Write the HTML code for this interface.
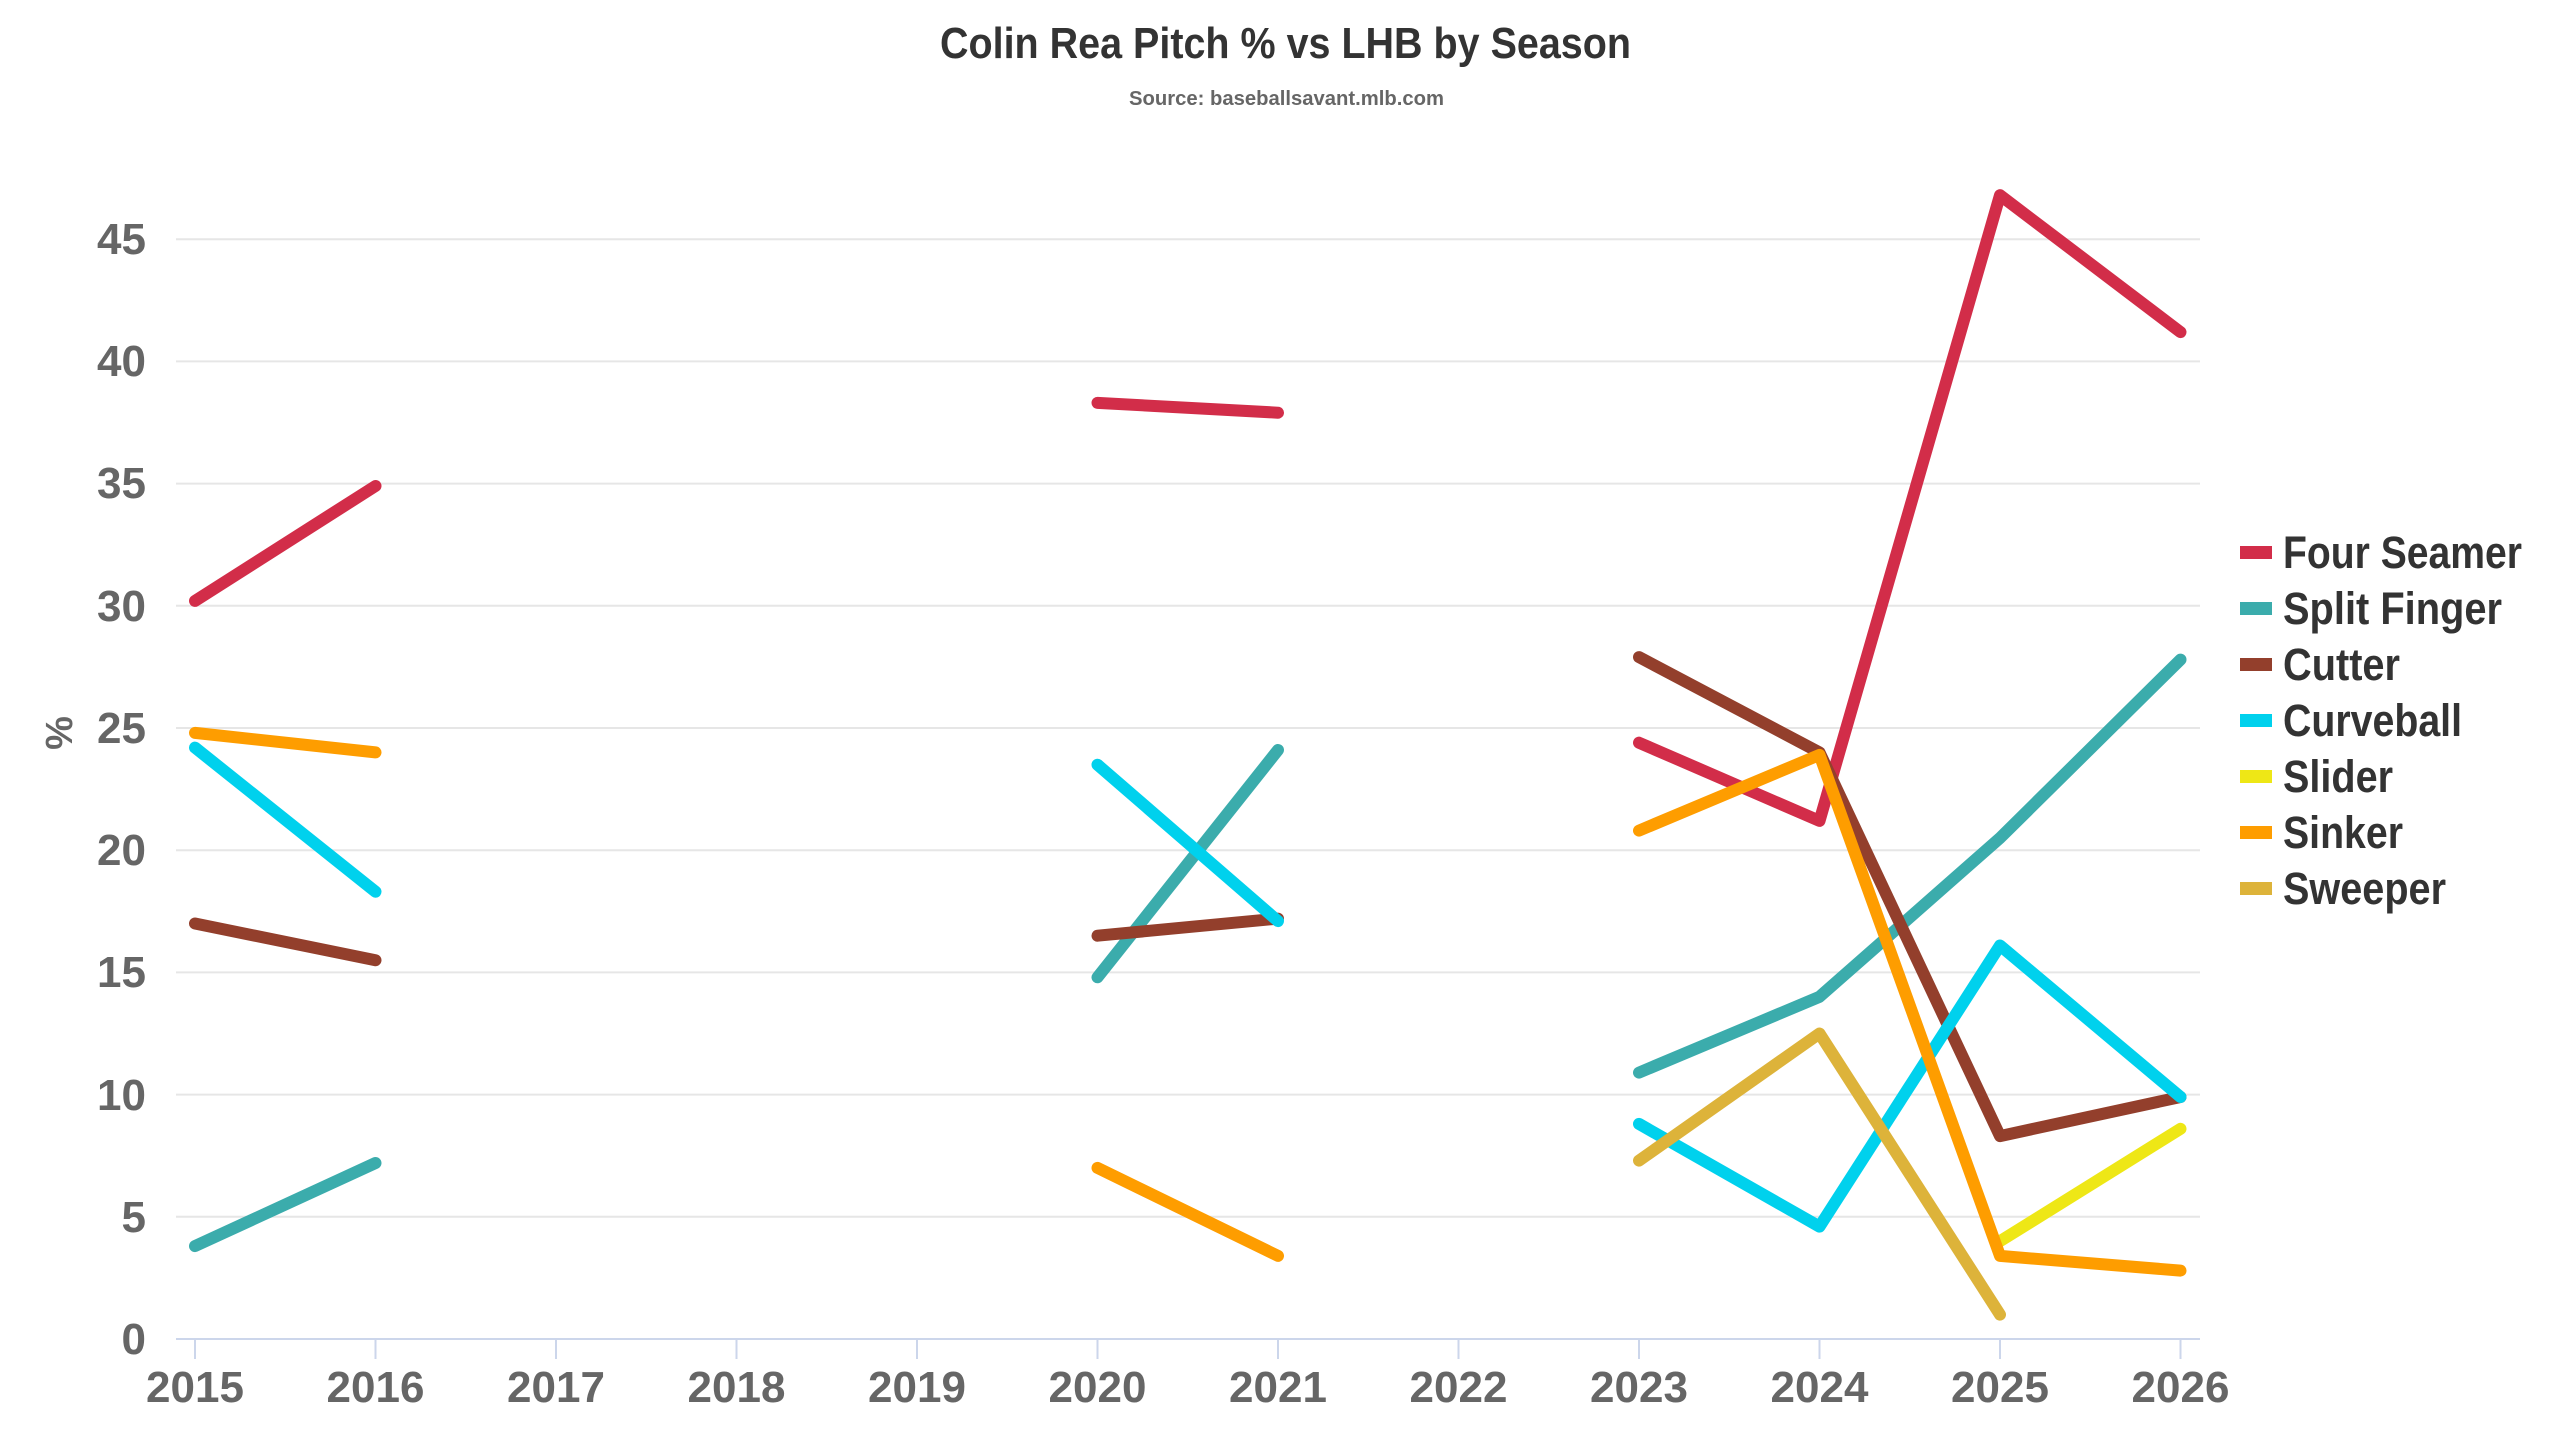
<!DOCTYPE html>
<html><head><meta charset="utf-8"><style>
html,body{margin:0;padding:0;background:#fff;}
svg{display:block;}
text{font-family:"Liberation Sans Narrow","Liberation Sans",sans-serif;font-weight:bold;}
</style></head><body>
<svg width="2560" height="1440" viewBox="0 0 2560 1440" xmlns="http://www.w3.org/2000/svg">
<text x="940" y="58" textLength="691" lengthAdjust="spacingAndGlyphs" font-size="44" fill="#333">Colin Rea Pitch % vs LHB by Season</text>
<text x="1129" y="105" textLength="315" lengthAdjust="spacingAndGlyphs" font-size="20" fill="#666">Source: baseballsavant.mlb.com</text>
<g stroke="#e6e6e6" stroke-width="2">
<line x1="176" x2="2200" y1="1216.8" y2="1216.8"/><line x1="176" x2="2200" y1="1094.6" y2="1094.6"/>
<line x1="176" x2="2200" y1="972.4" y2="972.4"/><line x1="176" x2="2200" y1="850.2" y2="850.2"/>
<line x1="176" x2="2200" y1="728" y2="728"/><line x1="176" x2="2200" y1="605.8" y2="605.8"/>
<line x1="176" x2="2200" y1="483.6" y2="483.6"/><line x1="176" x2="2200" y1="361.4" y2="361.4"/>
<line x1="176" x2="2200" y1="239.2" y2="239.2"/>
</g>
<line x1="176" x2="2200" y1="1339" y2="1339" stroke="#ccd6eb" stroke-width="2"/>
<g stroke="#ccd6eb" stroke-width="2">
<line x1="195" x2="195" y1="1339" y2="1359"/><line x1="375.5" x2="375.5" y1="1339" y2="1359"/>
<line x1="556" x2="556" y1="1339" y2="1359"/><line x1="736.5" x2="736.5" y1="1339" y2="1359"/>
<line x1="917" x2="917" y1="1339" y2="1359"/><line x1="1097.5" x2="1097.5" y1="1339" y2="1359"/>
<line x1="1278" x2="1278" y1="1339" y2="1359"/><line x1="1458.5" x2="1458.5" y1="1339" y2="1359"/>
<line x1="1639" x2="1639" y1="1339" y2="1359"/><line x1="1819.5" x2="1819.5" y1="1339" y2="1359"/>
<line x1="2000" x2="2000" y1="1339" y2="1359"/><line x1="2180.5" x2="2180.5" y1="1339" y2="1359"/>
</g>
<g font-size="44" fill="#666" text-anchor="end">
<text x="146" y="1354">0</text><text x="146" y="1232">5</text><text x="146" y="1110">10</text>
<text x="146" y="987">15</text><text x="146" y="865">20</text><text x="146" y="743">25</text>
<text x="146" y="621">30</text><text x="146" y="498">35</text><text x="146" y="376">40</text>
<text x="146" y="254">45</text>
</g>
<g font-size="44" fill="#666" text-anchor="middle">
<text x="195" y="1402">2015</text><text x="375.5" y="1402">2016</text><text x="556" y="1402">2017</text>
<text x="736.5" y="1402">2018</text><text x="917" y="1402">2019</text><text x="1097.5" y="1402">2020</text>
<text x="1278" y="1402">2021</text><text x="1458.5" y="1402">2022</text><text x="1639" y="1402">2023</text>
<text x="1819.5" y="1402">2024</text><text x="2000" y="1402">2025</text><text x="2180.5" y="1402">2026</text>
</g>
<text transform="translate(72,733) rotate(-90)" text-anchor="middle" font-size="38" fill="#666">%</text>
<g fill="none" stroke-width="12" stroke-linecap="round" stroke-linejoin="round">
<g stroke="#d22d49">
<polyline points="195,600.9 375.5,486"/><polyline points="1097.5,402.9 1278,412.7"/>
<polyline points="1639,742.7 1819.5,820.9 2000,195.2 2180.5,332.1"/>
</g>
<g stroke="#3bacac">
<polyline points="195,1246.1 375.5,1163"/><polyline points="1097.5,977.3 1278,750"/>
<polyline points="1639,1072.6 1819.5,996.8 2000,838 2180.5,659.6"/>
</g>
<g stroke="#933f2c">
<polyline points="195,923.5 375.5,960.2"/><polyline points="1097.5,935.7 1278,918.6"/>
<polyline points="1639,657.1 1819.5,752.4 2000,1136.1 2180.5,1097"/>
</g>
<g stroke="#00d1ed">
<polyline points="195,747.6 375.5,891.7"/><polyline points="1097.5,764.7 1278,921.1"/>
<polyline points="1639,1123.9 1819.5,1226.6 2000,945.5 2180.5,1097"/>
</g>
<g stroke="#eee716"><polyline points="2000,1241.2 2180.5,1128.8"/></g>
<g stroke="#fe9d00">
<polyline points="195,732.9 375.5,752.4"/><polyline points="1097.5,1167.9 1278,1255.9"/>
<polyline points="1639,830.6 1819.5,754.9 2000,1255.9 2180.5,1270.6"/>
</g>
<g stroke="#ddb33a"><polyline points="1639,1160.6 1819.5,1033.5 2000,1314.6"/></g>
</g>
<g font-size="45" fill="#333">
<rect x="2240" y="546" width="32" height="13" fill="#d22d49"/><text x="2283" y="568" textLength="239" lengthAdjust="spacingAndGlyphs">Four Seamer</text>
<rect x="2240" y="602" width="32" height="13" fill="#3bacac"/><text x="2283" y="624" textLength="219" lengthAdjust="spacingAndGlyphs">Split Finger</text>
<rect x="2240" y="658" width="32" height="13" fill="#933f2c"/><text x="2283" y="680" textLength="117" lengthAdjust="spacingAndGlyphs">Cutter</text>
<rect x="2240" y="714" width="32" height="13" fill="#00d1ed"/><text x="2283" y="736" textLength="179" lengthAdjust="spacingAndGlyphs">Curveball</text>
<rect x="2240" y="770" width="32" height="13" fill="#eee716"/><text x="2283" y="792" textLength="110" lengthAdjust="spacingAndGlyphs">Slider</text>
<rect x="2240" y="826" width="32" height="13" fill="#fe9d00"/><text x="2283" y="848" textLength="120" lengthAdjust="spacingAndGlyphs">Sinker</text>
<rect x="2240" y="882" width="32" height="13" fill="#ddb33a"/><text x="2283" y="904" textLength="163" lengthAdjust="spacingAndGlyphs">Sweeper</text>
</g>
</svg>
</body></html>
